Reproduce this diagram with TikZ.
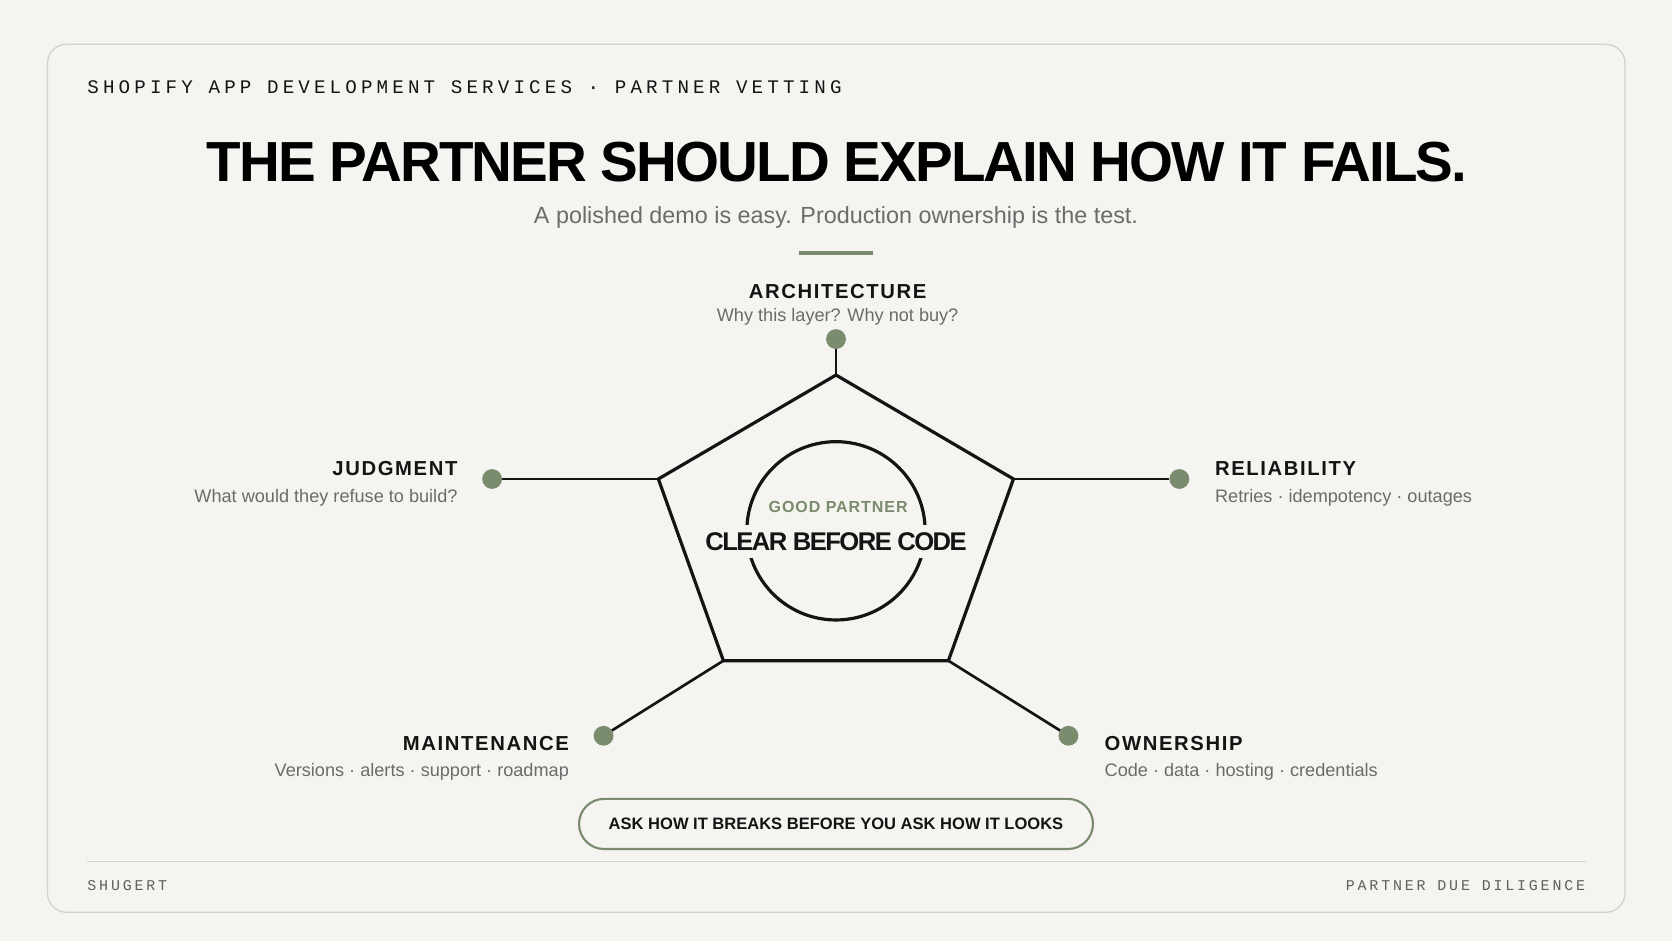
\documentclass[tikz,border=0pt]{standalone}
\usepackage{fontspec}
\setmainfont{Liberation Sans}
\newfontfamily\monofont{Liberation Mono}
\usetikzlibrary{positioning}

\definecolor{paper}{HTML}{F5F4F0}
\definecolor{cardline}{HTML}{D2D1CC}
\definecolor{sage}{HTML}{7A8B6E}
\definecolor{inkcol}{HTML}{141414}
\definecolor{greytext}{HTML}{6B6B6B}
\definecolor{footgrey}{HTML}{5E5E5E}

\begin{document}
\begin{tikzpicture}[
    x=1pt, y=-1pt,
    every node/.style={inner sep=0pt, outer sep=0pt},
    heading/.style={font=\fontsize{19}{22}\selectfont\bfseries\addfontfeatures{LetterSpace=8}, text=inkcol},
    subtext/.style={font=\fontsize{17}{20}\selectfont, text=greytext},
    monotag/.style={font=\monofont\fontsize{14}{16}\selectfont\addfontfeatures{LetterSpace=19}, text=footgrey},
    tipdot/.style={circle, fill=sage, minimum size=18.6pt},
    spoke/.style={draw=inkcol, line width=2.5pt},
    rim/.style={draw=inkcol, line width=3pt}
  ]

  % Page and card
  \fill[paper] (0,0) rectangle (1568,882);
  \draw[cardline, line width=1.2pt, rounded corners=18pt] (44.5,41.5) rectangle (1524,855.5);
  \draw[cardline, line width=1.2pt] (82,808) -- (1487,808);

  % Header
  \node (kicker) [anchor=base west, font=\monofont\fontsize{18}{20}\selectfont\addfontfeatures{LetterSpace=21.6}, text=inkcol] at (82,88) {SHOPIFY APP DEVELOPMENT SERVICES · PARTNER VETTING};
  \node (title) [anchor=base, font=\fontsize{53}{60}\selectfont\bfseries\addfontfeatures{LetterSpace=-3.4}, text=black] at (785,170.4) {THE PARTNER SHOULD EXPLAIN HOW IT FAILS.};
  \node (subtitle) [anchor=base, font=\fontsize{21.9}{25}\selectfont, text=greytext] at (784,210) {A polished demo is easy. Production ownership is the test.};
  \draw[sage, line width=3.8pt] (749.3,237) -- (819,237);

  % Pentagon and core
  \coordinate (pTop) at (784,351.7);
  \coordinate (pUL) at (617.4,449.2);
  \coordinate (pUR) at (950.4,449.2);
  \coordinate (pLR) at (889.4,619.6);
  \coordinate (pLL) at (678.4,619.6);
  \draw[rim, line join=miter] (pTop) -- (pUR) -- (pLR) -- (pLL) -- (pUL) -- cycle;
  \node (core) [circle, rim, minimum size=167.2pt] at (784,497.8) {};
  \node (goodTag) [anchor=base, font=\fontsize{15}{18}\selectfont\bfseries\addfontfeatures{LetterSpace=6}, text=sage] at (786,480.8) {GOOD PARTNER};
  \node (coreText) [anchor=base, fill=paper, inner xsep=4pt, inner ysep=7pt, font=\fontsize{24}{28}\selectfont\bfseries\addfontfeatures{LetterSpace=-6}, text=inkcol] at (784,516.4) {CLEAR BEFORE CODE};

  % Dots
  \node (archDot) [tipdot] at (784,318) {};
  \node (judgDot) [tipdot] at (461.5,449.2) {};
  \node (relDot) [tipdot] at (1106,449.2) {};
  \node (mainDot) [tipdot] at (566,690) {};
  \node (ownDot) [tipdot] at (1002,690) {};

  % Spokes
  \draw[spoke] (pTop) -- (archDot);
  \draw[spoke] (pUL) -- (judgDot);
  \draw[spoke] (pUR) -- (relDot);
  \draw[spoke] (pLL) -- (mainDot);
  \draw[spoke] (pLR) -- (ownDot);

  % Labels
  \node (archHead) [heading, anchor=base] at (785.5,279.8) {ARCHITECTURE};
  \node (archSub) [subtext, below=9.4pt of archHead] {Why this layer? Why not buy?};
  \node (judgHead) [heading, anchor=base east] at (429,445.5) {JUDGMENT};
  \node (judgSub) [subtext, below=13pt of judgHead.south east, anchor=north east] {What would they refuse to build?};
  \node (relHead) [heading, anchor=base west] at (1139.5,445.5) {RELIABILITY};
  \node (relSub) [subtext, below=13pt of relHead.south west, anchor=north west] {Retries · idempotency · outages};
  \node (mainHead) [heading, anchor=base east] at (533.5,703.4) {MAINTENANCE};
  \node (mainSub) [subtext, below=12.5pt of mainHead.south east, anchor=north east] {Versions · alerts · support · roadmap};
  \node (ownHead) [heading, anchor=base west] at (1036,703.4) {OWNERSHIP};
  \node (ownSub) [subtext, below=12.5pt of ownHead.south west, anchor=north west] {Code · data · hosting · credentials};

  % Motto pill
  \node (motto) [draw=sage, line width=2pt, rounded corners=23.5pt, minimum width=482pt, minimum height=47pt, fill=paper, font=\fontsize{15.5}{18}\selectfont\bfseries, text=inkcol] at (784,772.7) {ASK HOW IT BREAKS BEFORE YOU ASK HOW IT LOOKS};

  % Footer
  \node (brand) [monotag, anchor=base west] at (82,835.3) {SHUGERT};
  \node (footTag) [monotag, anchor=base east] at (1486.5,835.3) {PARTNER DUE DILIGENCE};

\end{tikzpicture}
\end{document}
